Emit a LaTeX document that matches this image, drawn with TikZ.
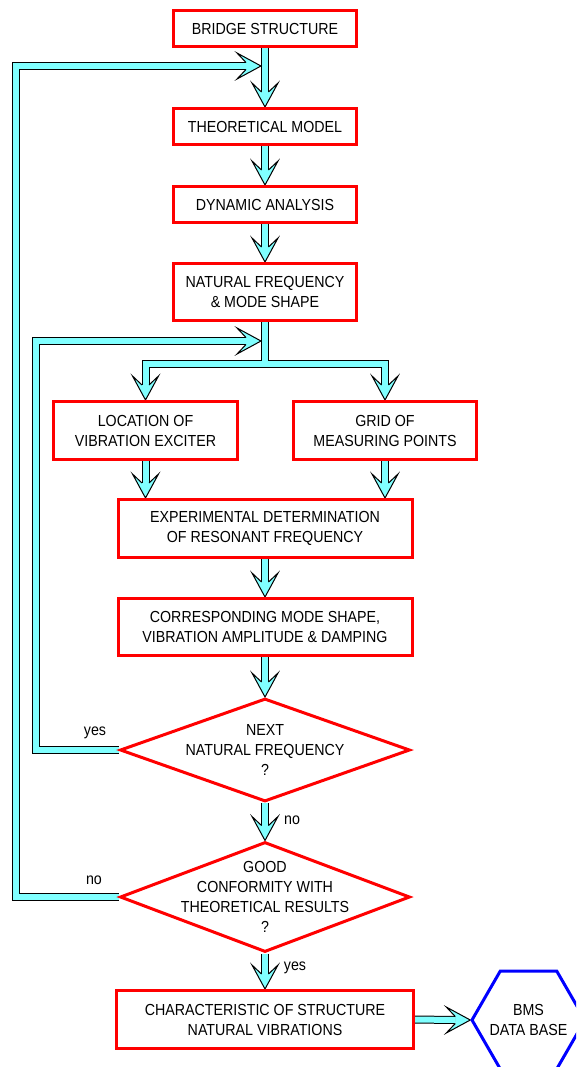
\documentclass[tikz,border=0pt]{standalone}
\usepackage{fontspec}
\setmainfont{Liberation Sans}[FakeStretch=0.89]
\usetikzlibrary{calc,shapes.geometric,backgrounds}
\definecolor{boxred}{RGB}{255,0,0}
\definecolor{pipecyan}{RGB}{128,255,255}
\definecolor{hexblue}{RGB}{0,0,255}

\begin{document}
\begin{tikzpicture}[x=0.75pt,y=-0.75pt,
  font=\fontsize{12pt}{15pt}\selectfont,
  box/.style={draw=boxred, line width=2.25pt, align=center, inner sep=0pt},
  decision/.style={diamond, draw=boxred, line width=2.25pt, inner sep=0pt},
  txt/.style={align=center, inner sep=0pt},
  % block connector: black outline with a light cyan core
  pipe/.style={draw=pipecyan, line width=4.5pt, line join=miter,
    preaction={draw=black, line width=6pt, line join=miter}},
  ahead/.pic={
    \fill[pipecyan] (0,0) -- (-24,-13) -- (-15,-3.5) -- (-15,3.5) -- (-24,13) -- cycle;
    \draw[black, line width=0.75pt, line join=miter]
      (-15,-3.5) -- (-24,-13) -- (0,0) -- (-24,13) -- (-15,3.5);
  }]
\useasboundingbox (0,0) rectangle (576,1067);
\clip (0,0) rectangle (576,1067);

% process boxes
\node[box, minimum width=137.25pt, minimum height=27pt] (bridge) at (265,28.5) {BRIDGE STRUCTURE};
\node[box, minimum width=137.25pt, minimum height=27pt] (theory) at (265,126.5) {THEORETICAL MODEL};
\node[box, minimum width=137.25pt, minimum height=27pt] (dynamic) at (265,204.5) {DYNAMIC ANALYSIS};
\node[box, minimum width=137.25pt, minimum height=42.75pt] (natfreq) at (265,292) {NATURAL FREQUENCY\\\& MODE SHAPE};
\node[box, minimum width=138pt, minimum height=43.5pt] (location) at (145.5,430.5) {LOCATION OF\\VIBRATION EXCITER};
\node[box, minimum width=137.25pt, minimum height=43.5pt] (grid) at (385,430.5) {GRID OF\\MEASURING POINTS};
\node[box, minimum width=220.5pt, minimum height=43.5pt] (exper) at (265,528.5) {EXPERIMENTAL DETERMINATION\\OF RESONANT FREQUENCY};
\node[box, minimum width=220.5pt, minimum height=42.75pt] (corresp) at (265,627) {CORRESPONDING MODE SHAPE,\\VIBRATION AMPLITUDE \& DAMPING};
\node[box, minimum width=222.75pt, minimum height=43.5pt] (charact) at (265,1019.5) {CHARACTERISTIC OF STRUCTURE\\NATURAL VIBRATIONS};

% decisions
\node[decision, minimum width=217.5pt, minimum height=77.25pt] (next) at (265,750) {};
\node[txt] (nexttext) at (next.center) {NEXT\\NATURAL FREQUENCY\\?};
\node[decision, minimum width=217.5pt, minimum height=82.5pt] (good) at (265,897) {};
\node[txt] (goodtext) at (good.center) {GOOD\\CONFORMITY WITH\\THEORETICAL RESULTS\\?};

% data base
\node[regular polygon, regular polygon sides=6, minimum size=84.75pt, draw=hexblue,
  line width=2.25pt, inner sep=0pt] (bms) at (528.5,1020) {};
\node[txt] (bmstext) at (bms.center) {BMS\\DATA BASE};

% branch labels
\node[txt] (yesloop) at (95,733) {yes};
\node[txt] (noloop) at (94,880) {no};
\node[txt] (nonext) at (292,820) {no};
\node[txt] (yesgood) at (295,968) {yes};

% connector end points
\coordinate (tipA) at (261,66);
\coordinate (tipB) at (261,341);
\coordinate (split) at (265,364);

\begin{pgfonlayer}{background}
\draw[pipe] (bridge.south) -- ($(theory.north)+(0,-15)$);
\pic[rotate=-90] at (theory.north) {ahead};
\draw[pipe] (theory.south) -- ($(dynamic.north)+(0,-15)$);
\pic[rotate=-90] at (dynamic.north) {ahead};
\draw[pipe] (dynamic.south) -- ($(natfreq.north)+(0,-15)$);
\pic[rotate=-90] at (natfreq.north) {ahead};

\draw[pipe] (natfreq.south) -- (split) -| ($(location.north)+(0,-15)$)
  (split) -| ($(grid.north)+(0,-15)$);
\pic[rotate=-90] at (location.north) {ahead};
\pic[rotate=-90] at (grid.north) {ahead};

\draw[pipe] (location.south) -- ($(location.south |- exper.north)+(0,-15)$);
\pic[rotate=-90] at (location.south |- exper.north) {ahead};
\draw[pipe] (grid.south) -- ($(grid.south |- exper.north)+(0,-15)$);
\pic[rotate=-90] at (grid.south |- exper.north) {ahead};

\draw[pipe] (exper.south) -- ($(corresp.north)+(0,-15)$);
\pic[rotate=-90] at (corresp.north) {ahead};
\draw[pipe] (corresp.south) -- ($(next.north)+(0,-15)$);
\pic[rotate=-90] at (next.north) {ahead};
\draw[pipe] (next.south) -- ($(good.north)+(0,-15)$);
\pic[rotate=-90] at (good.north) {ahead};
\draw[pipe] (good.south) -- ($(charact.north)+(0,-15)$);
\pic[rotate=-90] at (charact.north) {ahead};

\draw[pipe] (charact.east) -- ($(bms.west)+(-15,0)$);
\pic at (bms.west) {ahead};

% feedback loops
\draw[pipe] (next.west) -| (36,341) -- ($(tipB)+(-15,0)$);
\pic at (tipB) {ahead};
\draw[pipe] (good.west) -| (16,66) -- ($(tipA)+(-15,0)$);
\pic at (tipA) {ahead};
\end{pgfonlayer}
\end{tikzpicture}
\end{document}
